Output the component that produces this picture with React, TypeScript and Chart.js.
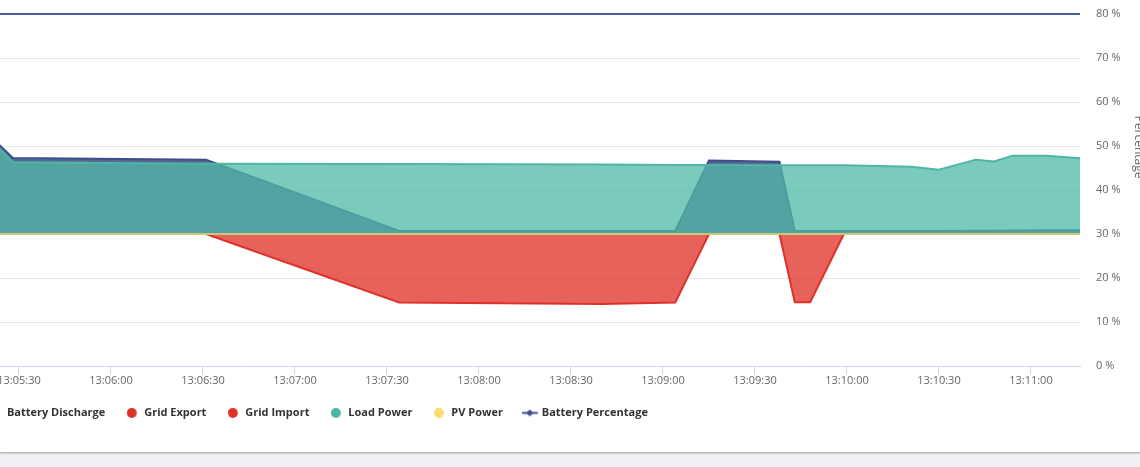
import React, { useEffect, useRef } from "react";
import { Chart, registerables } from "chart.js";

Chart.register(...registerables);

// seconds after 13:00:00
const times = [318, 328, 391, 454, 520, 544, 555, 578, 583, 588, 599, 621, 630, 642, 648, 654, 665, 676];
// power values (W) on the hidden power axis
const batteryDischarge = [2400, 1730, 1690, 70, 70, 70, 1670, 1640, 70, 70, 70, 70, 70, 75, 75, 80, 85, 85];
const gridExport = [0, 0, 0, -1557, -1590, -1557, 0, 0, -1552, -1552, 0, 0, 0, 0, 0, 0, 0, 0];
const gridImport = [0, 0, 0, 0, 0, 0, 0, 0, 0, 0, 0, 0, 0, 0, 0, 0, 0, 0];
const loadPower = [2340, 1630, 1595, 1590, 1580, 1570, 1570, 1560, 1560, 1560, 1560, 1530, 1460, 1690, 1650, 1780, 1780, 1720];
const pvPower = [0, 0, 0, 0, 0, 0, 0, 0, 0, 0, 0, 0, 0, 0, 0, 0, 0, 0];
// percentage on the right axis
const batteryPercentage = [80, 80, 80, 80, 80, 80, 80, 80, 80, 80, 80, 80, 80, 80, 80, 80, 80, 80];

const seriesNames = ["Battery Discharge", "Grid Export", "Grid Import", "Load Power", "PV Power", "Battery Percentage"];
const percentTicks = [0, 10, 20, 30, 40, 50, 60, 70, 80];

const X_MIN = 313.37;
const X_MAX = 676.0;
const SHIFT = 32;
const FONT = "'Open Sans', sans-serif";

function fmtTime(v: number) {
  const m = Math.floor(v / 60);
  const s = Math.round(v - m * 60);
  return `13:${String(m).padStart(2, "0")}:${String(s).padStart(2, "0")}`;
}

function pts(arr: number[]) {
  return arr.map((y, i) => ({ x: times[i], y }));
}

function makeDot(color: string) {
  const c = document.createElement("canvas");
  c.width = 13;
  c.height = 10;
  const g = c.getContext("2d")!;
  g.fillStyle = color;
  g.beginPath();
  g.arc(5, 5, 5, 0, Math.PI * 2);
  g.fill();
  return c;
}

function makeLineMarker() {
  const c = document.createElement("canvas");
  c.width = 18;
  c.height = 9;
  const g = c.getContext("2d")!;
  g.strokeStyle = "#3f4d8a";
  g.lineWidth = 2;
  g.beginPath();
  g.moveTo(0, 4.5);
  g.lineTo(16, 4.5);
  g.stroke();
  g.fillStyle = "#3f4d8a";
  g.beginPath();
  g.moveTo(8, 1);
  g.lineTo(11.5, 4.5);
  g.lineTo(8, 8);
  g.lineTo(4.5, 4.5);
  g.closePath();
  g.fill();
  return c;
}

const titlePlugin = {
  id: "pctTitle",
  afterDraw(chart: any) {
    const ctx = chart.ctx;
    ctx.save();
    ctx.font = `12px ${FONT}`;
    ctx.fillStyle = "#666666";
    ctx.translate(1135 + SHIFT, 147);
    ctx.rotate(Math.PI / 2);
    ctx.textAlign = "center";
    ctx.textBaseline = "alphabetic";
    ctx.fillText("Percentage", 0, 0);
    ctx.restore();
  },
};

export default function App() {
  const ref = useRef<HTMLCanvasElement | null>(null);

  useEffect(() => {
    if (!ref.current) return;
    const legendSymbols: any[] = [
      makeDot("#3f4d8a"),
      makeDot("#e0302a"),
      makeDot("#e0302a"),
      makeDot("#4db6a4"),
      makeDot("#f7dc6f"),
      makeLineMarker(),
    ];

    const chart = new Chart(ref.current, {
      type: "line",
      data: {
        datasets: [
          {
            label: seriesNames[0],
            data: pts(batteryDischarge),
            yAxisID: "y",
            borderColor: "#3f4d8a",
            backgroundColor: "rgba(62,76,128,0.85)",
            borderWidth: 2,
            fill: "origin",
            order: 6,
          },
          {
            label: seriesNames[1],
            data: pts(gridExport),
            yAxisID: "y",
            borderColor: "#e0302a",
            backgroundColor: "rgba(224,46,38,0.75)",
            borderWidth: 2,
            fill: "origin",
            order: 5,
          },
          {
            label: seriesNames[2],
            data: pts(gridImport),
            yAxisID: "y",
            borderColor: "#e0302a",
            backgroundColor: "rgba(224,46,38,0.75)",
            borderWidth: 1,
            fill: "origin",
            order: 4,
          },
          {
            label: seriesNames[3],
            data: pts(loadPower),
            yAxisID: "y",
            borderColor: "#4db6a4",
            backgroundColor: "rgba(79,186,167,0.75)",
            borderWidth: 2,
            fill: "origin",
            order: 3,
          },
          {
            label: seriesNames[4],
            data: pts(pvPower),
            yAxisID: "y",
            borderColor: "#cdc77c",
            backgroundColor: "rgba(247,220,111,0.75)",
            borderWidth: 2,
            fill: false,
            order: 2,
          },
          {
            label: seriesNames[5],
            data: pts(batteryPercentage),
            yAxisID: "y1",
            borderColor: "#4a5a9e",
            backgroundColor: "#4a5a9e",
            borderWidth: 2,
            fill: false,
            clip: 4,
            order: 1,
          },
        ],
      },
      options: {
        responsive: false,
        animation: false,
        events: [],
        elements: {
          point: { radius: 0, hoverRadius: 0 },
          line: { tension: 0 },
        },
        layout: { padding: { top: 14, bottom: 11.6, left: 0, right: 0 } },
        scales: {
          x: {
            type: "linear",
            position: "bottom",
            min: X_MIN,
            max: X_MAX,
            afterFit: (s: any) => {
              s.height = 19;
            },
            ticks: {
              stepSize: 30,
              includeBounds: false,
              autoSkip: false,
              maxRotation: 0,
              maxTicksLimit: 100,
              padding: 0,
              color: "#666666",
              font: { family: FONT, size: 11 },
              callback: (v: any) => fmtTime(Number(v)),
            },
            grid: {
              drawOnChartArea: false,
              drawTicks: true,
              tickLength: 8,
              color: "#ccd6eb",
            },
            border: { color: "#ccd6eb", width: 1 },
          },
          y: {
            display: false,
            position: "left",
            min: -3000,
            max: 5000,
          },
          y1: {
            position: "right",
            min: percentTicks[0],
            max: percentTicks[percentTicks.length - 1],
            afterFit: (s: any) => {
              s.width = 60;
            },
            ticks: {
              stepSize: 10,
              padding: 0,
              color: "#666666",
              font: { family: FONT, size: 11 },
              callback: (v: any) => `${v} %`,
            },
            grid: {
              drawTicks: true,
              tickLength: 16,
              tickColor: "rgba(0,0,0,0)",
              color: (c: any) => (c.tick && c.tick.value === 0 ? "rgba(0,0,0,0)" : "#e6e6e6"),
            },
            border: { display: false },
          },
        },
        plugins: {
          tooltip: { enabled: false },
          legend: {
            display: true,
            position: "bottom",
            align: "start",
            labels: {
              usePointStyle: true,
              boxWidth: 11,
              boxHeight: 7,
              padding: 22.4,
              color: "#333333",
              font: { family: FONT, size: 11, weight: "bold" },
              sort: (a: any, b: any) => a.datasetIndex - b.datasetIndex,
              generateLabels: (ch: any) => {
                const items = (Chart.defaults.plugins.legend.labels as any).generateLabels(ch);
                return items.map((it: any) => ({
                  ...it,
                  fillStyle: "#333333",
                  strokeStyle: "#333333",
                  lineWidth: 0,
                  pointStyle: legendSymbols[it.datasetIndex],
                  fontColor: "#333333",
                }));
              },
            },
          },
        },
      } as any,
      plugins: [titlePlugin],
    });
    return () => chart.destroy();
  }, []);

  return (
    <div style={{ position: "fixed", left: 0, top: 0, width: 1140, height: 467, background: "#eff0f4", overflow: "hidden" }}>
      <div
        style={{
          position: "absolute",
          left: 0,
          top: 0,
          width: 1140,
          height: 452,
          background: "#ffffff",
          boxShadow: "0 1px 2px rgba(0,0,0,0.35)",
          overflow: "hidden",
        }}
      >
        <canvas ref={ref} width={1172} height={440} style={{ position: "absolute", left: -SHIFT, top: 0, width: 1172, height: 440 }} />
      </div>
    </div>
  );
}
